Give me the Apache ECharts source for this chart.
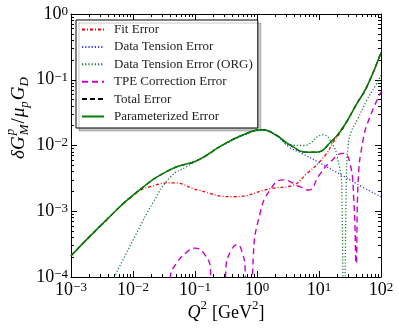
<!DOCTYPE html>
<html>
<head>
<meta charset="utf-8">
<script src="https://cdn.jsdelivr.net/npm/echarts@6/dist/echarts.min.js"></script>
<style>
html, body { margin: 0; padding: 0; background: #fff; }
#chart { width: 399px; height: 331px; }
</style>
</head>
<body>
<div id="chart"></div>
<script>
// axis decades
var xTicks = [1e-3, 1e-2, 1e-1, 1, 10, 100];
var yTicks = [1e-4, 1e-3, 1e-2, 1e-1, 1];

// Parameterized error (green solid) and total error (black dashed, below it)
var paramQ2 = [0.001, 0.0033, 0.0115, 0.040, 0.112, 0.28, 0.63, 1.2, 2.0, 3.4, 6.5, 8.9, 15.8, 24.5, 40, 59, 100];
var paramErr = [2.1e-4, 6.6e-4, 1.95e-3, 4.3e-3, 6.0e-3, 1.02e-2, 1.48e-2, 1.74e-2, 1.45e-2, 1.02e-2, 7.9e-3, 7.9e-3, 1.15e-2, 1.9e-2, 4.2e-2, 7.8e-2, 0.26];
var totalQ2 = paramQ2;
var totalErr = paramErr;

// Fit error (red dash-dot)
var fitQ2 = [0.001, 0.0032, 0.01, 0.02, 0.045, 0.112, 0.4, 1.8, 3.4, 6.5, 12.6, 17, 24.5, 40, 59, 100];
var fitErr = [2.1e-4, 6.3e-4, 1.74e-3, 2.4e-3, 2.7e-3, 2.1e-3, 1.66e-3, 2.24e-3, 2.4e-3, 3.8e-3, 7.1e-3, 1.12e-2, 1.82e-2, 4.2e-2, 7.8e-2, 0.26];

// Data tension error (blue dotted)
var tensionQ2 = [0.28, 0.63, 1.2, 2.0, 3.4, 5, 10, 25, 50, 100];
var tensionErr = [1.0e-2, 1.46e-2, 1.73e-2, 1.43e-2, 9.3e-3, 7.8e-3, 5.5e-3, 3.4e-3, 2.34e-3, 1.66e-3];

// Data tension error (ORG) (green dotted)
var orgQ2 = [0.0047, 0.0115, 0.021, 0.040, 0.074, 0.112, 0.28, 0.63, 1.2, 2.0, 3.4, 5.6, 11.7, 15.8, 20, 23.4, 25.1, 27.5, 29.5, 33, 42, 59, 80, 100];
var orgErr = [8.9e-5, 4.7e-4, 1.35e-3, 3.3e-3, 4.8e-3, 6.0e-3, 1.02e-2, 1.48e-2, 1.74e-2, 1.45e-2, 1.02e-2, 1.0e-2, 1.45e-2, 1.12e-2, 6.3e-3, 2.0e-3, 1e-6, 2.5e-3, 1.0e-2, 1.6e-2, 2.5e-2, 4.9e-2, 7.9e-2, 0.117];

// TPE correction error (magenta dashed)
var tpeQ2 = [0.034, 0.040, 0.050, 0.074, 0.1, 0.141, 0.178, 0.195,
  0.275, 0.316, 0.38, 0.48, 0.575, 0.645, 0.69,
  0.76, 0.87, 1.12, 1.62, 2.63, 5.0, 6.8, 10, 15.1, 24.5, 31.6, 36.3, 39.8, 42.7, 51.3, 66, 100];
var tpeErr = [1e-6, 1.0e-4, 1.6e-4, 2.4e-4, 2.75e-4, 2.24e-4, 1.26e-4, 1e-6,
  1e-6, 1.4e-4, 2.5e-4, 3.1e-4, 2.4e-4, 1.26e-4, 1e-6,
  1e-6, 2.0e-4, 9.3e-4, 2.1e-3, 3.0e-3, 2.34e-3, 2.1e-3, 3.5e-3, 5.6e-3, 7.6e-3, 5.4e-3, 1.6e-3, 1.6e-4, 2.7e-3, 1.2e-2, 2.7e-2, 6.5e-2];

var serif = 'Liberation Serif';

function zip(xs, ys) {
	var out = [];
	for (var i = 0; i < xs.length; i++) {
		out.push([xs[i], ys[i]]);
	}
	return out;
}

function minors(decades) {
	var out = [];
	for (var i = 0; i < decades.length - 1; i++) {
		for (var k = 2; k <= 9; k++) {
			out.push(k * decades[i]);
		}
	}
	return out;
}

function line(name, xs, ys, color, dash, width, z) {
	return {
		name : name,
		type : 'line',
		data : zip(xs, ys),
		symbol : 'none',
		smooth : 0.5,
		z : z,
		lineStyle : {
			color : color,
			type : dash,
			width : width
		},
		itemStyle : {
			color : color
		}
	};
}

function powLabel(v) {
	var e = Math.round(Math.log10(v));
	return '{b|10}{s|' + (e < 0 ? '\u2212' : '') + Math.abs(e) + '}';
}

var labelRich = {
	b : {
		fontFamily : serif,
		fontSize : 18,
		color : '#000',
		lineHeight : 18,
		verticalAlign : 'middle'
	},
	s : {
		fontFamily : serif,
		fontSize : 13,
		color : '#000',
		lineHeight : 13,
		verticalAlign : 'top',
		padding : [0, 0, 10, 0]
	}
};

function axisPair(kind, pos, min, max, ticks, showLabel) {
	var base = {
		type : 'log',
		logBase : 10,
		min : min,
		max : max,
		position : pos,
		splitLine : {
			show : false
		},
		minorTick : {
			show : false
		}
	};
	var major = Object.assign({}, base, {
		axisLine : {
			show : true,
			onZero : false,
			lineStyle : {
				color : '#000',
				width : 1
			}
		},
		axisTick : {
			show : true,
			inside : true,
			length : 6,
			customValues : ticks,
			lineStyle : {
				color : '#000',
				width : 1
			}
		},
		axisLabel : {
			show : showLabel,
			customValues : ticks,
			formatter : powLabel,
			rich : labelRich,
			margin : kind == 'x' ? 4 : 3
		}
	});
	var minor = Object.assign({}, base, {
		axisLine : {
			show : false,
			onZero : false
		},
		axisTick : {
			show : true,
			inside : true,
			length : 3,
			customValues : minors(ticks),
			lineStyle : {
				color : '#000',
				width : 1
			}
		},
		axisLabel : {
			show : false
		}
	});
	return [major, minor];
}

// lays out a small math expression as graphic texts
var measureCtx = document.createElement('canvas').getContext('2d');
function mathText(parts, cx, cy, rotate) {
	var children = [];
	var x = 0;
	for (var i = 0; i < parts.length; i++) {
		var p = parts[i];
		var font = (p.italic ? 'italic ' : '') + p.size + 'px "' + serif + '"';
		measureCtx.font = font;
		var w = measureCtx.measureText(p.t).width;
		children.push({
			type : 'text',
			x : x + (p.dx || 0),
			y : p.dy || 0,
			style : {
				text : p.t,
				font : font,
				fill : '#000',
				verticalAlign : 'middle'
			}
		});
		if (!p.stack) {
			x += w + (p.gap || 0);
		}
	}
	for (var j = 0; j < children.length; j++) {
		children[j].x -= x / 2;
	}
	return {
		type : 'group',
		x : cx,
		y : cy,
		rotation : rotate || 0,
		children : children
	};
}

var xAxes = axisPair('x', 'bottom', 1e-3, 100, xTicks, true).concat(axisPair('x', 'top', 1e-3, 100, xTicks, false));
var yAxes = axisPair('y', 'left', 1e-4, 1, yTicks, true).concat(axisPair('y', 'right', 1e-4, 1, yTicks, false));

var charts = echarts.init(document.getElementById('chart'));

var option = {
	backgroundColor : '#fff',
	animation : false,
	grid : {
		left : 71,
		right : 18,
		top : 14,
		bottom : 54
	},
	legend : {
		left : 76,
		top : 20,
		orient : 'vertical',
		selectedMode : false,
		itemWidth : 22,
		itemHeight : 12,
		itemGap : 4.4,
		padding : [3, 5, 5, 5],
		borderColor : '#000',
		borderWidth : 1,
		backgroundColor : '#fff',
		shadowColor : 'rgba(0,0,0,0.22)',
		shadowBlur : 0,
		shadowOffsetX : 3,
		shadowOffsetY : 3,
		itemStyle : {
			opacity : 0
		},
		textStyle : {
			fontFamily : serif,
			fontSize : 13,
			color : '#222',
			padding : [0, 0, 0, 5]
		},
		data : ['Fit Error', 'Data Tension Error', 'Data Tension Error (ORG)', 'TPE Correction Error', 'Total Error', 'Parameterized Error']
	},
	xAxis : xAxes,
	yAxis : yAxes,
	series : [
		line('Fit Error', fitQ2, fitErr, '#ff0000', [3, 2, 1, 2], 1.3, 2),
		line('Data Tension Error', tensionQ2, tensionErr, '#3333ff', [1.2, 2], 1.3, 3),
		line('Data Tension Error (ORG)', orgQ2, orgErr, '#1a7a3a', [1.2, 2], 1.3, 4),
		line('TPE Correction Error', tpeQ2, tpeErr, '#cc00cc', [6, 4], 1.4, 5),
		line('Total Error', totalQ2, totalErr, '#000', [5, 3], 1.3, 6),
		line('Parameterized Error', paramQ2, paramErr, '#008000', 'solid', 1.5, 7)
	],
	graphic : [
		mathText([
			{t : '\u03b4', size : 19, italic : true},
			{t : 'G', size : 19, italic : true, gap : 1},
			{t : 'p', size : 13, italic : true, dy : -8, stack : true},
			{t : 'M', size : 13, italic : true, dy : 6, gap : 1},
			{t : '/', size : 19, gap : 1},
			{t : '\u03bc', size : 19, italic : true},
			{t : 'p', size : 13, italic : true, dy : 6, gap : 1},
			{t : 'G', size : 19, italic : true},
			{t : 'D', size : 13, italic : true, dy : 6}
		], 19, 118, Math.PI / 2),
		mathText([
			{t : 'Q', size : 18, italic : true},
			{t : '2', size : 13, dy : -7, gap : 5},
			{t : '[GeV', size : 18},
			{t : '2', size : 13, dy : -7},
			{t : ']', size : 18}
		], 226, 313, 0)
	]
};

charts.setOption(option);
</script>
</body>
</html>
